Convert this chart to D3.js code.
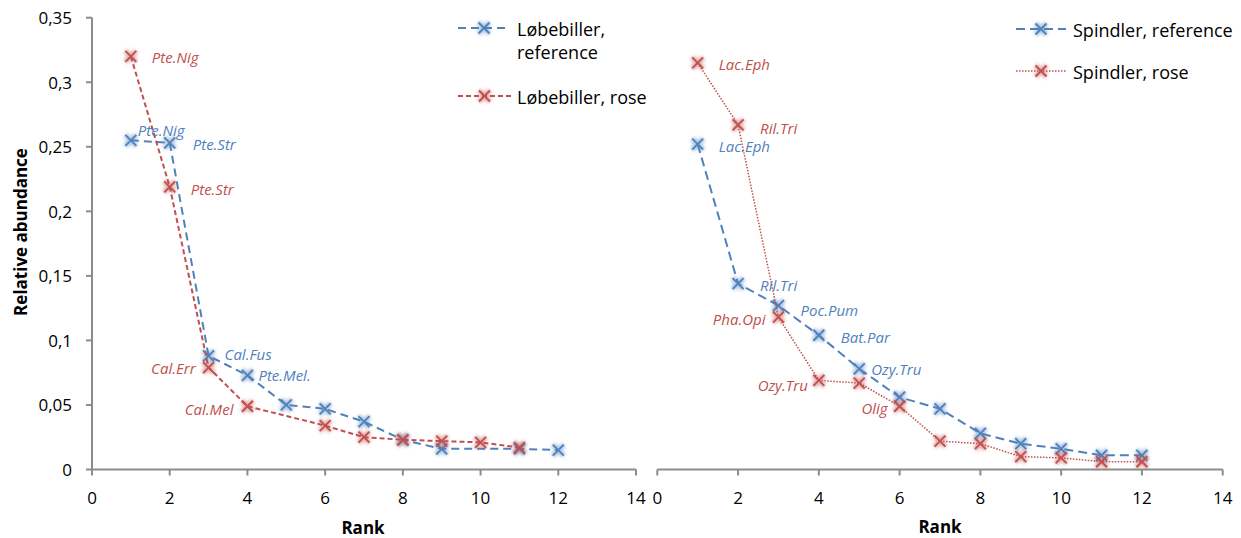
<!DOCTYPE html>
<html>
<head>
<meta charset="utf-8">
<script src="https://cdn.jsdelivr.net/npm/d3@7/dist/d3.min.js"></script>
<style>
  html, body { margin: 0; padding: 0; background: #fff; }
  svg { display: block; font-family: "Open Sans", "Noto Sans", sans-serif; }
</style>
</head>
<body>
<svg id="chart" width="1241" height="538"></svg>
<script>
// Rank-abundance data: ground beetles (Løbebiller) and spiders (Spindler)
const beetleRefRanks = [1, 2, 3, 4, 5, 6, 7, 8, 9, 11, 12];
const beetleRefValues = [0.255, 0.253, 0.088, 0.073, 0.050, 0.047, 0.037, 0.023, 0.016, 0.016, 0.015];
const beetleRefLabels = ["Pte.Nig", "Pte.Str", "Cal.Fus", "Pte.Mel."];

const beetleRoseRanks = [1, 2, 3, 4, 6, 7, 8, 9, 10, 11];
const beetleRoseValues = [0.320, 0.219, 0.079, 0.049, 0.034, 0.025, 0.023, 0.022, 0.021, 0.017];
const beetleRoseLabels = ["Pte.Nig", "Pte.Str", "Cal.Err", "Cal.Mel"];

const spiderRefRanks = [1, 2, 3, 4, 5, 6, 7, 8, 9, 10, 11, 12];
const spiderRefValues = [0.252, 0.144, 0.127, 0.104, 0.078, 0.056, 0.047, 0.028, 0.020, 0.016, 0.011, 0.011];
const spiderRefLabels = ["Lac.Eph", "Ril.Tri", "Poc.Pum", "Bat.Par", "Ozy.Tru"];

const spiderRoseRanks = [1, 2, 3, 4, 5, 6, 7, 8, 9, 10, 11, 12];
const spiderRoseValues = [0.315, 0.267, 0.118, 0.069, 0.067, 0.049, 0.022, 0.020, 0.010, 0.009, 0.006, 0.006];
const spiderRoseLabels = ["Lac.Eph", "Ril.Tri", "Pha.Opi", "Ozy.Tru", null, "Olig"];

const xTicks = [0, 2, 4, 6, 8, 10, 12, 14];
const yTicks = [0, 0.05, 0.1, 0.15, 0.2, 0.25, 0.3, 0.35];
const yTickLabels = ["0", "0,05", "0,1", "0,15", "0,2", "0,25", "0,3", "0,35"];

const BLUE = "#4F81BD";
const RED = "#C0504D";
const AXIS = "#8c8c8c";

const svg = d3.select("#chart");

const defs = svg.append("defs");
defs.append("filter").attr("id", "halo")
  .attr("x", "-50%").attr("y", "-50%").attr("width", "200%").attr("height", "200%")
  .append("feGaussianBlur").attr("stdDeviation", 1.4);

const y = d3.scaleLinear().domain([0, 0.35]).range([469.5, 17.7]);
const xLeft = d3.scaleLinear().domain([0, 14]).range([92, 636]);
const xRight = d3.scaleLinear().domain([0, 14]).range([657.3, 1222.7]);

const crossPath = "M-5.5,-5.5L5.5,5.5M-5.5,5.5L5.5,-5.5";

function drawMarker(g, cx, cy, color) {
  const m = g.append("g").attr("transform", `translate(${cx},${cy})`);
  m.append("path").attr("d", crossPath)
    .attr("stroke", color).attr("stroke-opacity", 0.45)
    .attr("stroke-width", 5.5).attr("fill", "none")
    .attr("filter", "url(#halo)");
  m.append("path").attr("d", crossPath)
    .attr("stroke", color).attr("stroke-width", 1.8).attr("fill", "none");
}

function drawSeries(g, x, ranks, values, color, dash, width) {
  const pts = ranks.map((r, i) => [x(r), y(values[i])]);
  g.append("path")
    .attr("d", d3.line()(pts))
    .attr("fill", "none")
    .attr("stroke", color)
    .attr("stroke-width", width)
    .attr("stroke-dasharray", dash);
  pts.forEach(p => drawMarker(g, p[0], p[1], color));
  return pts;
}

function drawLabels(g, pts, labels, color, offsets) {
  labels.forEach((t, i) => {
    if (!t) return;
    const o = offsets[i];
    g.append("text")
      .attr("x", pts[i][0] + o[0])
      .attr("y", pts[i][1] + o[1])
      .attr("text-anchor", o[2] || "start")
      .attr("dominant-baseline", "central")
      .attr("font-style", "italic")
      .attr("font-size", 15)
      .attr("fill", color)
      .text(t);
  });
}

// ---------- Left panel: beetles ----------
const left = svg.append("g");

// y axis
left.append("line").attr("x1", xLeft(0)).attr("x2", xLeft(0))
  .attr("y1", y(0)).attr("y2", y(0.35))
  .attr("stroke", AXIS).attr("stroke-width", 2);
yTicks.forEach((v, i) => {
  left.append("line").attr("x1", xLeft(0) - 6).attr("x2", xLeft(0))
    .attr("y1", y(v)).attr("y2", y(v)).attr("stroke", AXIS).attr("stroke-width", 2);
  left.append("text").attr("x", 72).attr("y", y(v))
    .attr("text-anchor", "end").attr("dominant-baseline", "central")
    .attr("font-size", 17).attr("fill", "#000").text(yTickLabels[i]);
});

function drawXAxis(g, x) {
  g.append("line").attr("x1", x(0)).attr("x2", x(14))
    .attr("y1", y(0)).attr("y2", y(0)).attr("stroke", AXIS).attr("stroke-width", 2);
  xTicks.forEach(v => {
    g.append("line").attr("x1", x(v)).attr("x2", x(v))
      .attr("y1", y(0)).attr("y2", y(0) + 6).attr("stroke", AXIS).attr("stroke-width", 2);
    g.append("text").attr("x", x(v)).attr("y", 497)
      .attr("text-anchor", "middle").attr("dominant-baseline", "central")
      .attr("font-size", 17).attr("fill", "#000").text(v);
  });
}
drawXAxis(left, xLeft);

left.append("text")
  .attr("transform", "translate(20,232) rotate(-90)")
  .attr("text-anchor", "middle").attr("dominant-baseline", "central")
  .attr("font-size", 17).attr("font-weight", "bold").text("Relative abundance");
left.append("text").attr("x", 363).attr("y", 527)
  .attr("text-anchor", "middle").attr("dominant-baseline", "central")
  .attr("font-size", 17).attr("font-weight", "bold").text("Rank");

const bRefPts = drawSeries(left, xLeft, beetleRefRanks, beetleRefValues, BLUE, "8,5", 2);
const bRosePts = drawSeries(left, xLeft, beetleRoseRanks, beetleRoseValues, RED, "5,3", 2);

drawLabels(left, bRefPts, beetleRefLabels, BLUE,
  [[7, -10], [23, 1], [16, -2], [11, 0]]);
drawLabels(left, bRosePts, beetleRoseLabels, RED,
  [[21, 1], [21, 2], [-13, 0, "end"], [-14, 3, "end"]]);

// ---------- Right panel: spiders ----------
const right = svg.append("g");
drawXAxis(right, xRight);
right.append("text").attr("x", 940).attr("y", 526)
  .attr("text-anchor", "middle").attr("dominant-baseline", "central")
  .attr("font-size", 17).attr("font-weight", "bold").text("Rank");

const sRefPts = drawSeries(right, xRight, spiderRefRanks, spiderRefValues, BLUE, "9,5", 2);
const sRosePts = drawSeries(right, xRight, spiderRoseRanks, spiderRoseValues, RED, "1.5,1.5", 1.5);

drawLabels(right, sRefPts, spiderRefLabels, BLUE,
  [[21, 2], [22, 1], [22, 4], [22, 2], [12, 0]]);
drawLabels(right, sRosePts, spiderRoseLabels, RED,
  [[21, 1], [22, 3], [-13, 2, "end"], [-11, 5, "end"], null, [-12, 2, "end"]]);

// ---------- Legends ----------
function legendItem(g, x0, x1, ly, color, dash, width, lines, tx) {
  g.append("line").attr("x1", x0).attr("x2", x1).attr("y1", ly).attr("y2", ly)
    .attr("stroke", color).attr("stroke-width", width).attr("stroke-dasharray", dash);
  drawMarker(g, (x0 + x1) / 2, ly, color);
  lines.forEach((t, i) => {
    g.append("text").attr("x", tx).attr("y", ly + 1 + i * 23)
      .attr("dominant-baseline", "central").attr("font-size", 18)
      .attr("fill", "#000").text(t);
  });
}
const legend = svg.append("g");
legendItem(legend, 458, 510, 28, BLUE, "8,5", 2, ["Løbebiller,", "reference"], 517);
legendItem(legend, 458, 511, 96, RED, "5,3", 2, ["Løbebiller, rose"], 517);
legendItem(legend, 1016, 1066, 29, BLUE, "9,5", 2, ["Spindler, reference"], 1073);
legendItem(legend, 1016, 1066, 71, RED, "1.5,1.5", 1.5, ["Spindler, rose"], 1073);
</script>
</body>
</html>
